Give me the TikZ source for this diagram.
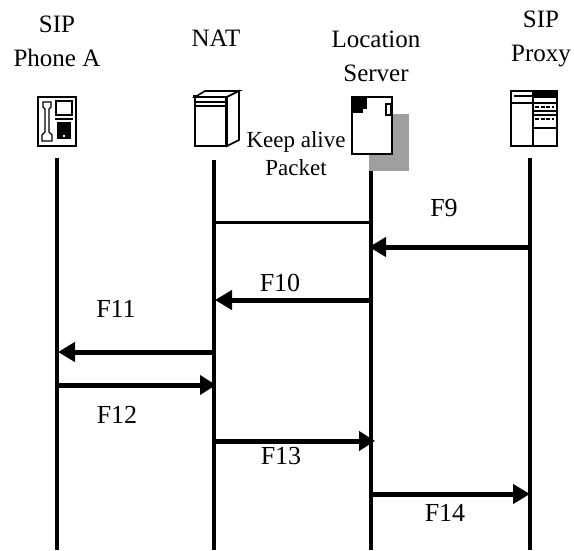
\documentclass[tikz,border=0pt]{standalone}
\usepackage{fontspec}
\setmainfont{Liberation Serif}
\usetikzlibrary{arrows.meta}
\begin{document}
\begin{tikzpicture}[x=1pt,y=-1pt,
 lbl/.style={font=\fontsize{25}{34}\selectfont,align=center,inner sep=0pt},
 msg/.style={font=\fontsize{26}{30}\selectfont,inner sep=0pt},
 small/.style={font=\fontsize{23}{28}\selectfont,align=center,inner sep=0pt},
 life/.style={line width=3.2pt},
 arr/.style={line width=5pt,-{Triangle[length=17pt,width=19pt]}},
 arrs/.style={line width=5pt,-{Triangle[length=16pt,width=19pt]}},
 plain/.style={line width=3pt},
 ic/.style={line width=1.6pt,fill=white},
 thin/.style={line width=1.4pt}]
\useasboundingbox (0,0) rectangle (574,550);
\fill[white] (0,0) rectangle (574,550);
% labels
\node[lbl] (ta) at (57,41) {SIP\\Phone A};
\node[lbl] (tb) at (216,38) {NAT};
\node[lbl] (tc) at (376,56) {Location\\Server};
\node[lbl] (td) at (541,39) {SIP\\Proxy};
% life lines
\coordinate (a0) at (57,158); \coordinate (a1) at (57,550);
\coordinate (b0) at (214,160); \coordinate (b1) at (214,550);
\coordinate (c0) at (371,170); \coordinate (c1) at (371,550);
\coordinate (d0) at (530,158); \coordinate (d1) at (530,550);
\draw[life] (a0)--(a1); \draw[life] (b0)--(b1); \draw[life] (c0)--(c1); \draw[life] (d0)--(d1);
% phone icon
\draw[ic] (38,97) rectangle (76,146);
\draw[thin] (43,102) -- (51,102) -- (51,107) -- (49,109) -- (49,132) -- (52,135) -- (52,141) -- (42,141) -- (42,135) -- (45,132) -- (45,109) -- (43,107) -- cycle;
\draw[thin] (56,101) rectangle (72,115);
\draw[thin] (55,119) -- (73,119);
\fill (57,122) rectangle (71,139);
\fill[white] (63,135) rectangle (65,137);
% NAT icon
\draw[ic] (195,97) rectangle (226,146);
\draw[ic] (195,97) -- (205,91) -- (239,91) -- (227,97) -- cycle;
\draw[ic] (227,97) -- (239,91) -- (239,140) -- (227,146) -- cycle;
\draw[thin] (195,102) -- (226,102) (195,106) -- (226,106);
\draw[line width=2pt] (193,96) -- (199,96);
% location icon
\fill[gray!75] (369,114) rectangle (409,171);
\draw[ic] (352,97) rectangle (392,154);
\fill (352,97) rectangle (367,113);
\fill[white] (363,109) rectangle (368,114);
\draw[thin,fill=white] (386,104) rectangle (391,115);
% proxy icon
\draw[ic] (511,91) rectangle (557,146);
\draw[thin] (533,91) -- (533,146) (511,103) -- (533,103) (533,128) -- (557,128);
\fill (533,91) rectangle (557,98);
\draw[line width=2.4pt] (514,96) -- (532,96);
\draw[thin] (534,103) -- (557,103);
\draw[thin,dash pattern=on 4pt off 1.5pt] (535,107) -- (554,107);
\draw[thin] (534,111) -- (557,111);
\draw[thin] (534,115) -- (557,115);
\draw[thin,dash pattern=on 4pt off 1.5pt] (535,119) -- (554,119);
% keep alive
\node[small] (ka) at (296,154) {Keep alive\\Packet};
% messages
\coordinate (k1) at (214,222); \coordinate (k2) at (373,222);
\draw[plain] (k2)--(k1);
\coordinate (f9s) at (530,247); \coordinate (f9e) at (369,247);
\draw[arr] (f9s)--(f9e);
\coordinate (f10s) at (371,300); \coordinate (f10e) at (215,300);
\draw[arr] (f10s)--(f10e);
\coordinate (f11s) at (214,352); \coordinate (f11e) at (58,352);
\draw[arr] (f11s)--(f11e);
\coordinate (f12s) at (57,385); \coordinate (f12e) at (216,385);
\draw[arrs] (f12s)--(f12e);
\coordinate (f13s) at (214,441); \coordinate (f13e) at (375,441);
\draw[arrs] (f13s)--(f13e);
\coordinate (f14s) at (371,494); \coordinate (f14e) at (530,494);
\draw[arr] (f14s)--(f14e);
\node[msg] (n9) at (444,208) {F9};
\node[msg] (n10) at (280,283) {F10};
\node[msg] (n11) at (116,309) {F11};
\node[msg] (n12) at (117,415) {F12};
\node[msg] (n13) at (281,456) {F13};
\node[msg] (n14) at (445,513) {F14};
\end{tikzpicture}
\end{document}
